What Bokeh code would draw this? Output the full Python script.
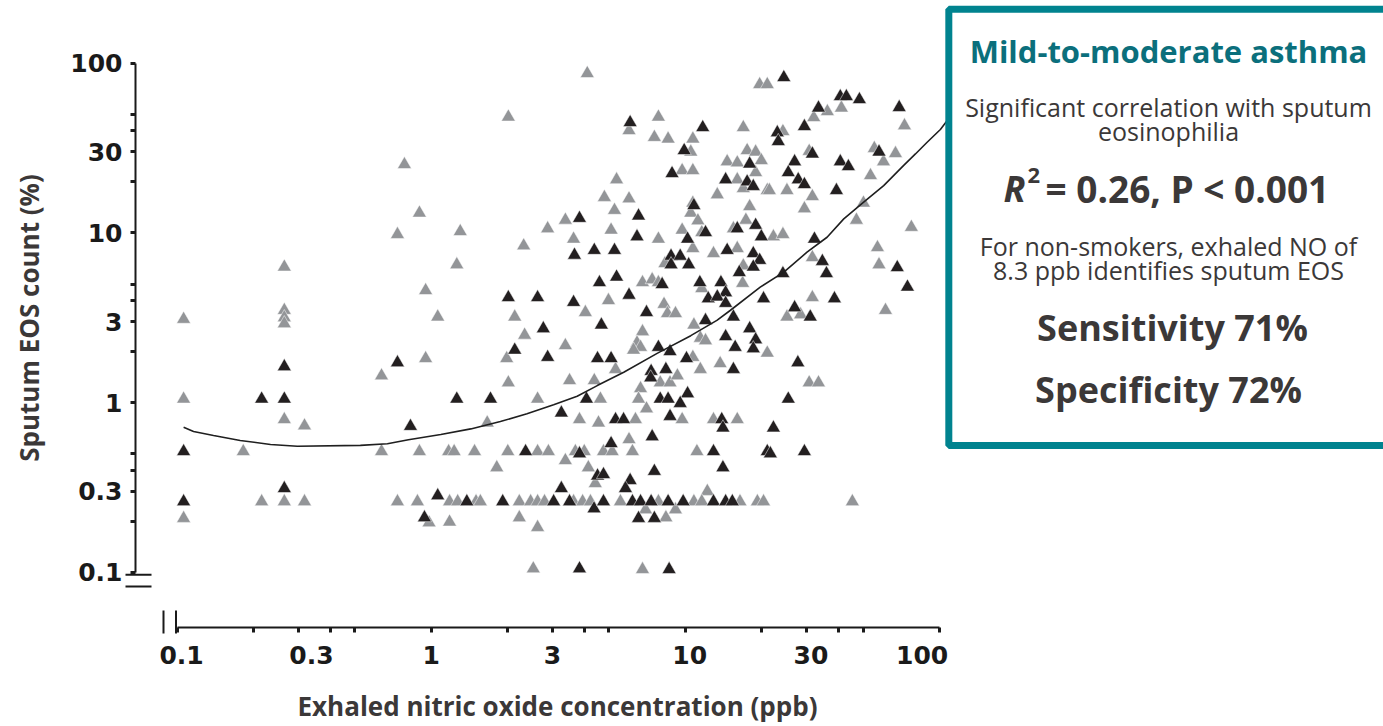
from bokeh.plotting import figure
from bokeh.models import Range1d, FixedTicker, CustomJSTickFormatter, Label, BoxAnnotation
from bokeh.embed import file_html
from bokeh.resources import INLINE

# ---------------- data ----------------
gray_x = [0.784, 0.736, 0.264, 0.106, 0.264, 0.264, 0.264, 0.637, 0.106, 0.264, 0.317, 0.182, 0.637,
          0.215, 0.264, 0.317, 0.736, 0.106,
          4.11, 2.01, 0.898, 1.30, 3.37, 2.87, 3.63, 2.31, 1.26, 0.95, 1.06, 2.13, 4.04,
          19.6, 21.0, 7.83, 6.0, 7.55, 8.55, 10.7, 16.9, 10.5, 17.5,
          18.9, 19.9, 14.6, 16.0, 9.71, 10.7, 16.0, 16.9, 18.9, 21.0,
          5.36, 4.80, 6.0, 13.35, 5.26, 10.7, 10.5, 17.9, 11.2, 17.3,
          5.10, 9.71, 7.83, 11.6, 15.45, 10.7, 12.9, 16.0, 8.31, 6.78,
          7.40, 7.83, 16.9, 16.8, 4.98, 8.24, 8.5, 9.14, 11.6,
          36.2, 41.1, 32.0, 24.2, 72.8, 30.7, 55.4, 60.2, 67.1, 53.5,
          21.4, 25.1, 31.6, 29.4, 50.2, 47.1, 77.5, 22.2, 24.2, 57.0,
          31.6, 57.8, 31.6, 25.1, 28.4, 61.3,
          2.33, 0.95, 1.98, 3.37, 2.01, 3.50, 4.38, 2.62, 1.66, 3.83,
          0.898, 1.17, 1.23, 1.48, 2.0, 2.62, 2.89, 3.69, 4.0,
          1.81, 3.37, 4.15, 4.42,
          0.882, 1.18, 1.27, 1.50, 1.56, 2.22, 2.46, 2.62, 2.79, 3.63, 3.94, 4.23,
          0.98, 1.18, 2.22, 2.62, 2.52,
          6.78, 10.8, 11.45, 12.0, 6.45, 6.66, 6.25, 21.0, 13.7, 11.45,
          10.7, 5.31, 7.96, 8.70, 9.30, 6.66, 6.54, 4.63, 7.03, 4.55,
          6.36, 9.71, 12.9, 16.0, 6.0, 4.76, 5.15, 6.19, 11.1, 12.2,
          5.55, 7.83, 10.8, 11.6, 16.4, 19.2, 20.3, 6.97, 9.14, 8.38,
          6.78, 30.7, 33.4, 45.4]
gray_y = [25.3, 9.8, 6.3, 3.1, 3.5, 3.17, 2.92, 1.44, 1.05, 0.795, 0.73, 0.515, 0.515,
          0.261, 0.261, 0.261, 0.261, 0.208,
          87.0, 48.2, 13.1, 10.2, 11.9, 10.6, 9.2, 8.4, 6.5, 4.58, 3.2, 3.2, 3.4,
          74.9, 74.9, 48.2, 40.1, 36.6, 35.8, 35.8, 41.8, 30.0, 30.6,
          30.0, 26.7, 26.3, 25.9, 23.3, 23.3, 20.6, 18.3, 22.7, 17.8,
          20.6, 16.2, 15.9, 16.8, 13.6, 15.0, 13.1, 14.3, 11.8, 11.9,
          10.4, 10.4, 9.2, 10.05, 10.6, 8.1, 7.56, 8.1, 6.6, 5.1,
          5.3, 5.1, 6.4, 5.05, 4.0, 3.8, 3.35, 3.35, 4.7,
          51.9, 54.5, 47.9, 39.6, 42.9, 30.3, 31.5, 26.3, 29.4, 21.8,
          17.8, 17.8, 16.4, 13.9, 15.0, 11.9, 10.8, 9.5, 9.8, 8.2,
          7.16, 6.5, 4.16, 3.2, 3.3, 3.5,
          2.5, 1.82, 1.82, 2.17, 1.31, 1.35, 1.35, 1.05, 0.76, 0.795,
          0.515, 0.515, 0.515, 0.515, 0.515, 0.515, 0.515, 0.515, 0.515,
          0.414, 0.456, 0.414, 0.334,
          0.261, 0.261, 0.261, 0.261, 0.261, 0.261, 0.261, 0.261, 0.261, 0.261, 0.261, 0.261,
          0.196, 0.198, 0.21, 0.184, 0.105,
          2.62, 2.87, 2.4, 2.32, 2.25, 2.12, 2.04, 1.96, 1.70, 1.57,
          1.85, 1.57, 1.31, 1.31, 1.44, 1.21, 1.05, 1.05, 0.92, 0.76,
          0.795, 0.795, 0.795, 0.795, 0.606, 0.515, 0.515, 0.515, 0.515, 0.30,
          0.261, 0.261, 0.261, 0.261, 0.261, 0.261, 0.261, 0.234, 0.234, 0.21,
          0.104, 1.31, 1.31, 0.261]

black_x = [0.264, 0.736, 0.215, 0.264, 0.106, 0.264, 0.106, 0.828,
           3.83, 4.38, 3.66, 4.59, 2.01, 2.62, 3.63,
           6.06, 11.7, 9.89, 17.9, 8.86, 14.4, 17.5, 18.5, 10.8, 6.54,
           6.45, 10.2, 12.0, 16.0, 18.9, 19.9,
           5.26, 14.6, 8.78, 9.54, 8.78, 10.3, 18.5, 19.6, 18.5, 16.3,
           5.36, 8.10, 11.4, 13.8, 6.0, 14.4, 12.3, 13.35, 14.4, 20.3, 7.03, 15.45, 12.0,
           24.4, 40.7, 43.0, 48.4, 33.4, 69.4, 29.4, 23.0, 23.2, 31.6,
           57.8, 26.9, 40.7, 43.8, 25.4, 27.8, 29.4, 39.3, 32.2, 34.6,
           35.9, 24.2, 68.2, 74.8, 26.9, 38.6, 31.0,
           2.76, 2.13, 2.87, 4.51, 1.26, 1.71, 4.08, 3.25,
           2.35, 3.83, 3.25, 1.06, 1.38, 1.91, 3.03, 3.50, 4.37, 0.94, 3.83, 4.51, 4.67,
           17.9, 14.4, 18.9, 18.5, 15.7, 7.83, 8.70,
           5.10, 10.1, 7.33, 8.38, 15.45, 7.30, 10.2, 7.96, 8.55, 9.54,
           8.70, 5.31, 5.71, 13.9, 14.05, 7.40, 5.10, 12.9, 21.0, 14.05,
           4.76, 7.55, 6.06, 5.81, 4.76, 6.19, 6.66, 7.33, 8.55, 9.80,
           12.9, 14.4, 15.3, 6.54, 7.55, 8.63,
           27.7, 25.4, 22.2, 21.6, 29.4]
black_y = [1.63, 1.72, 1.05, 1.05, 0.515, 0.312, 0.261, 0.725,
           12.2, 7.9, 7.4, 5.1, 4.16, 4.16, 3.9,
           44.7, 41.8, 30.6, 25.5, 22.4, 20.6, 20.0, 18.8, 14.5, 12.6,
           9.5, 9.2, 10.05, 10.6, 11.1, 9.5,
           7.9, 7.9, 7.3, 7.3, 6.5, 6.5, 7.56, 6.9, 6.3, 5.85,
           5.5, 4.97, 5.1, 5.1, 4.3, 4.45, 4.1, 4.2, 3.85, 4.1, 3.4, 3.2, 3.05,
           82.4, 63.6, 63.6, 61.1, 54.5, 54.9, 42.4, 39.0, 34.6, 29.2,
           30.0, 26.3, 26.3, 24.6, 22.7, 20.6, 19.3, 17.8, 9.2, 6.8,
           5.76, 5.76, 6.25, 4.8, 3.63, 4.1, 3.2,
           2.73, 2.04, 1.85, 1.82, 1.05, 1.05, 1.05, 0.87,
           0.515, 0.50, 0.312, 0.283, 0.261, 0.261, 0.261, 0.261, 0.237, 0.21, 0.105, 0.37, 2.87,
           2.73, 2.45, 2.35, 2.08, 2.12, 2.12, 2.0,
           1.82, 1.82, 1.53, 1.57, 1.57, 1.40, 1.13, 1.05, 1.05, 0.99,
           0.83, 0.795, 0.795, 0.795, 0.71, 0.63, 0.574, 0.515, 0.515, 0.414,
           0.377, 0.394, 0.348, 0.312, 0.261, 0.261, 0.261, 0.261, 0.261, 0.261,
           0.261, 0.261, 0.261, 0.208, 0.208, 0.104,
           1.72, 1.05, 0.71, 0.50, 0.515]

curve_x = [0.106, 0.116, 0.139, 0.177, 0.233, 0.297, 0.526, 0.672, 0.813, 1.09, 1.43, 1.87,
           2.38, 3.03, 3.75, 4.50, 5.72, 7.74, 10.5, 13.3, 15.0, 19.7, 24.4, 30.1, 36.1,
           42.0, 50.3, 60.3, 72.3, 80.4, 89.4, 100.8, 106.5]
curve_y = [0.716, 0.676, 0.64, 0.598, 0.567, 0.553, 0.56, 0.572, 0.604, 0.649, 0.70, 0.774,
           0.859, 0.97, 1.09, 1.26, 1.51, 1.95, 2.48, 3.05, 3.49, 4.79, 5.87, 7.70, 9.43,
           12.1, 15.2, 19.0, 25.0, 29.2, 34.2, 40.7, 45.3]

major_ticks = [0.1, 0.3, 1, 3, 10, 30, 100]
minor_ticks = [0.2, 0.4, 0.5, 2, 4, 5, 20, 40, 50]

box_lines = ["Significant correlation with sputum", "eosinophilia",
             "For non-smokers, exhaled NO of", "8.3 ppb identifies sputum EOS"]

TEXT = "#3b3838"
TEAL = "#00838F"
H = 726

p = figure(width=1383, height=H, x_axis_type="log", y_axis_type="log",
           x_range=Range1d(0.02017, 5588), y_range=Range1d(0.012343, 234.2),
           output_backend="svg", toolbar_location=None, title=None,
           min_border_left=0, min_border_right=0, min_border_top=0, min_border_bottom=0)
p.outline_line_color = None
p.xgrid.visible = False
p.ygrid.visible = False
p.background_fill_color = "white"
p.border_fill_color = "white"

p.yaxis[0].fixed_location = 0.06853
p.xaxis[0].fixed_location = 0.04727

for ax in (p.xaxis[0], p.yaxis[0]):
    ax.ticker = FixedTicker(ticks=major_ticks, minor_ticks=minor_ticks)
    ax.bounds = (0.1, 100)
    ax.axis_line_color = "#1a1a1a"
    ax.axis_line_width = 2
    ax.major_tick_line_color = "#1a1a1a"
    ax.minor_tick_line_color = "#1a1a1a"
    ax.major_tick_line_width = 3
    ax.minor_tick_line_width = 3
    ax.major_tick_in = 0
    ax.major_tick_out = 5
    ax.minor_tick_in = 0
    ax.minor_tick_out = 5
    ax.major_label_text_font = "DejaVu Sans"
    ax.major_label_text_font_style = "bold"
    ax.major_label_text_font_size = "25px"
    ax.major_label_text_color = "#1a1a1a"
    ax.major_label_standoff = 8

p.yaxis[0].formatter = CustomJSTickFormatter(code="return String(tick)")
# x labels in the reference sit slightly off their ticks (padded with no-break spaces)
p.xaxis[0].formatter = CustomJSTickFormatter(code="""
    const s = String(tick);
    const nb = "\\u00a0";
    if (tick == 0.3) return nb + nb + nb + s;
    if (tick == 100) return s + nb + nb + nb + nb;
    if (tick == 0.1 || tick == 10 || tick == 30) return nb + s;
    return s;
""")

p.yaxis.axis_label = "Sputum EOS count (%)"
p.yaxis.axis_label_text_font = "Open Sans"
p.yaxis.axis_label_text_font_style = "bold"
p.yaxis.axis_label_text_font_size = "26px"
p.yaxis.axis_label_text_color = TEXT
p.yaxis.axis_label_standoff = 20

# scatter + fitted curve
p.scatter(gray_x, gray_y, marker="triangle", size=14, fill_color="#939598",
          line_color="white", line_width=0.5)
p.scatter(black_x, black_y, marker="triangle", size=14, fill_color="#231f20",
          line_color="white", line_width=0.5)
p.line(curve_x, curve_y, line_color="#1f1f1f", line_width=1.6)

# axis break marks (screen units, measured from bottom-left)
for (l, r, b, t) in [(125, 151, H - 575.3, H - 573.3), (125, 151, H - 587, H - 585),
                     (162, 164, H - 633, H - 610), (174.5, 176.5, H - 633, H - 610)]:
    p.add_layout(BoxAnnotation(left=l, right=r, bottom=b, top=t,
                               left_units="screen", right_units="screen",
                               bottom_units="screen", top_units="screen",
                               fill_color="#1a1a1a", fill_alpha=1, line_color=None))

DY = 13  # baseline correction

def add_text(txt, x, ybase, size, style="normal", color=TEXT, align="center", font="Open Sans"):
    p.add_layout(Label(x=x, y=H - ybase + DY, x_units="screen", y_units="screen", text=txt,
                       text_font=font, text_font_style=style,
                       text_font_size=size, text_color=color,
                       text_align=align, text_baseline="alphabetic"))

# x axis title
add_text("Exhaled nitric oxide concentration (ppb)", 297, 718.7, "26px", "bold", align="left")

# info box
p.add_layout(BoxAnnotation(left=108.8, right=1e6, top=207.8, bottom=0.5586,
                           fill_color="white", fill_alpha=1,
                           line_color=TEAL, line_alpha=1, line_width=7))

cx = 1168
add_text("Mild-to-moderate asthma", cx, 63.3, "31px", "bold", "#0b6f7c")
add_text(box_lines[0], cx, 119.7, "25px")
add_text(box_lines[1], cx, 143.5, "25px")
add_text("R", 1003, 201, "36px", "bold italic", align="left")
add_text("2", 1027, 188, "22px", "bold", align="left")
add_text("= 0.26, P < 0.001", 1045, 201, "37px", "bold", align="left")
add_text(box_lines[2], cx, 258, "25px")
add_text(box_lines[3], cx, 282.5, "25px")
add_text("Sensitivity 71%", cx + 4, 340, "36px", "bold")
add_text("Specificity 72%", cx, 401.7, "36px", "bold")

open("out.html", "w").write(file_html(p, INLINE))
